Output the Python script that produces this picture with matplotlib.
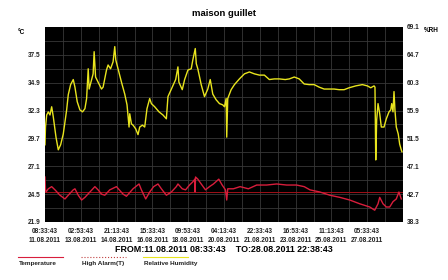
import numpy as np
import matplotlib
matplotlib.use('Agg')
import matplotlib.pyplot as plt
from matplotlib.lines import Line2D

plt.rcParams['font.family'] = ['Liberation Sans', 'DejaVu Sans']
plt.rcParams['font.weight'] = 'bold'

# hours since 11.08.2011 08:33:43
rh_hours = [0, 0.6, 2.0, 3.9, 5.9, 7.9, 9.8, 13.0, 15.7, 18.5, 21.6, 25.6, 27.5, 30.3,
            33.4, 35.4, 38.1, 41.3, 44.4, 47.2, 49.2, 51.1, 52.2, 55.1, 56.9, 58.1,
            59.8, 62.8, 66.8, 68.7, 72.7, 74.6, 77.5, 80.5, 82.5, 83.7, 86.4, 90.4,
            94.3, 97.0, 99.4, 100.2, 102.2, 104.1, 107.3, 110.0, 112.0, 115.2, 117.9,
            120.6, 123.8, 125.8, 129.7, 134.8, 139.5, 143.5, 145.4, 149.4, 154.5,
            157.2, 158.3, 162.3, 165.1, 169.0, 172.9, 174.8, 177.7, 178.9, 180.7,
            184.7, 188.6, 192.5, 195.4, 198.4, 202.4, 206.3, 210.2, 212.2, 214.2,
            214.9, 216.1, 220.1, 224.0, 229.9, 235.8, 241.7, 247.6, 253.5, 259.4,
            265.3, 271.2, 277.1, 284.1, 288.9, 294.8, 300.6, 306.5, 312.4, 318.3,
            324.2, 330.1, 336.0, 341.9, 347.8, 353.7, 359.6, 367.5, 375.3, 381.2,
            385.2, 389.1, 390.2, 391.1, 392.2, 393.8, 395.8, 397.7, 400.9, 403.6,
            406.8, 408.8, 410.0, 411.5, 412.7, 413.8, 415.4, 417.7, 419.4, 421.3, 422.1]
rh = [50.5, 53.3, 55.2, 55.7, 55.2, 56.5, 54.9, 51.7, 49.7, 50.5, 52.2, 56.0, 58.4, 60.0,
      60.8, 59.6, 57.3, 56.0, 55.7, 56.2, 57.8, 62.5, 59.3, 60.8, 61.7, 65.2,
      61.2, 60.4, 59.3, 59.6, 62.3, 63.1, 62.5, 63.6, 66.0, 63.9, 62.5, 60.4,
      58.5, 56.8, 53.3, 55.4, 53.8, 53.6, 53.0, 52.1, 53.3, 53.6, 53.3,
      56.2, 57.8, 57.0, 56.5, 55.7, 55.2, 54.6, 58.1, 59.3, 60.8,
      62.8, 60.4, 59.2, 60.8, 62.3, 62.5, 63.9, 65.7, 63.3, 62.5,
      60.0, 58.1, 59.3, 60.8, 58.5, 57.6, 57.0, 56.8, 56.5, 57.8,
      51.7, 57.8, 59.2, 60.0, 60.9, 61.7, 62.0, 61.7, 61.5, 61.5,
      60.8, 60.9, 60.9, 60.8, 60.9, 61.2, 60.9, 60.1, 60.0, 60.0,
      59.6, 59.3, 59.3, 59.3, 59.2, 59.2, 59.5, 59.8, 60.0, 59.8,
      59.5, 59.8, 59.6, 48.1, 54.4, 57.0, 55.4, 53.3, 53.3, 54.6,
      55.7, 56.0, 57.0, 55.7, 58.9, 56.0, 53.3, 52.2, 50.6, 49.7, 49.4]

t_hours = [0, 0.6, 1.2, 3.9, 7.9, 11.8, 17.7, 23.6, 27.5, 33.4, 35.4, 39.3, 43.3, 47.2,
           53.1, 59.0, 62.8, 66.8, 70.7, 76.6, 84.5, 92.3, 96.3, 104.1, 111.2, 114.0,
           119.1, 123.8, 128.5, 133.6, 137.6, 143.5, 149.4, 155.3, 157.2, 162.3,
           166.2, 170.9, 174.8, 177.2, 177.5, 178.0, 180.7, 184.7, 189.8, 194.5,
           199.2, 205.5, 209.5, 213.4, 214.9, 216.1, 222.8, 230.7, 240.5, 250.3,
           262.1, 273.9, 285.7, 297.5, 306.5, 313.3, 325.0, 336.8, 348.6, 360.4,
           372.2, 384.0, 389.9, 393.8, 395.8, 399.7, 403.6, 407.6, 411.5, 415.4,
           418.5, 421.3]
temp = [26.1, 24.9, 24.7, 25.0, 25.2, 24.9, 24.4, 24.05, 24.4, 24.9, 25.0, 24.4, 23.95, 24.2,
        24.7, 25.2, 24.9, 24.5, 24.4, 24.9, 25.2, 24.5, 24.3, 25.0, 25.45, 24.9,
        24.05, 24.7, 25.2, 25.45, 25.0, 24.4, 24.7, 25.2, 25.45, 25.0,
        24.9, 25.35, 25.65, 25.9, 24.7, 26.1, 25.9, 25.45, 24.9, 25.2,
        25.45, 25.9, 25.35, 24.9, 23.95, 25.0, 25.0, 25.2, 25.0, 25.35,
        25.35, 25.45, 25.35, 25.35, 25.2, 24.9, 24.7, 24.4, 24.2, 23.95,
        23.6, 23.3, 23.0, 23.6, 24.2, 23.6, 23.3, 23.3, 23.8, 24.05,
        24.7, 24.05]

high_alarm = 24.7

x_tick_labels = ['08:33:43\n11.08.2011', '02:53:43\n13.08.2011', '21:13:43\n14.08.2011',
                 '15:33:43\n16.08.2011', '09:53:43\n18.08.2011', '04:13:43\n20.08.2011',
                 '22:33:43\n21.08.2011', '16:53:43\n23.08.2011', '11:13:43\n25.08.2011',
                 '05:33:43\n27.08.2011']
t_ticks = [21.9, 24.5, 27.1, 29.7, 32.3, 34.9, 37.5]
rh_ticks = [38.3, 42.7, 47.1, 51.5, 55.9, 60.3, 64.7, 69.1]

step = 42 + 20 / 60.0
fig = plt.figure(figsize=(4.48, 2.8), dpi=100)
ax = fig.add_axes([45 / 448, 1 - 222 / 280, 358 / 448, 195 / 280])
ax.set_facecolor('black')
ax2 = ax.twinx()

ax.set_xlim(0, 10 * step)
ax.set_ylim(21.9, 40.1)
ax2.set_ylim(38.3, 69.1)

# grid every half label step
for i in range(1, 20):
    ax.axvline(i * step / 2, color='#383838', lw=0.6, zorder=0)
for i in range(1, 14):
    ax.axhline(21.9 + i * 1.3, color='#383838', lw=0.6, zorder=0)

ax.plot(t_hours, temp, color='#d81e3c', lw=1.0, zorder=3)
ax.axhline(high_alarm, color='#a01018', lw=0.7, zorder=2)
ax2.plot(rh_hours, rh, color='#e8e41e', lw=1.0, zorder=3)

tick_font = dict(size=4.7, weight='bold')
ax.set_xticks([i * step for i in range(10)])
ax.set_xticklabels(x_tick_labels, fontdict=tick_font, color='#222222', linespacing=1.4)
ax.set_yticks(t_ticks)
ax.set_yticklabels(['%.1f' % v for v in t_ticks], fontdict=tick_font, color='#222222')
ax2.set_yticks(rh_ticks)
ax2.set_yticklabels(['%.1f' % v for v in rh_ticks], fontdict=tick_font, color='#222222')
for a in (ax, ax2):
    a.tick_params(length=0, pad=3)
    for s in a.spines.values():
        s.set_visible(False)
ax.tick_params(axis='x', pad=4)

fig.text(224 / 448, 1 - 14 / 280, 'maison guillet', ha='center', va='center',
         fontsize=6.8, fontweight='bold')
fig.text(21 / 448, 1 - 32 / 280, '°C', ha='center', va='center', fontdict=tick_font)
fig.text(431 / 448, 1 - 30 / 280, '%RH', ha='center', va='center', fontdict=tick_font)
fig.text(224 / 448, 1 - 249 / 280, 'FROM:11.08.2011 08:33:43    TO:28.08.2011 22:38:43',
         ha='center', va='center', fontsize=6.4, fontweight='bold')

legend_items = [('Temperature', '#d81e3c', '-'), ('High Alarm(T)', '#c04040', ':'),
                ('Relative Humidity', '#e8e41e', '-')]
for i, (name, col, ls) in enumerate(legend_items):
    x0 = 18 + i * 62.5
    fig.add_artist(Line2D([x0 / 448, (x0 + 45) / 448], [1 - 257 / 280] * 2,
                          color=col, lw=0.8, ls=ls))
    fig.text((x0 + 1) / 448, 1 - 264 / 280, name, ha='left', va='center',
             fontsize=4.6, fontweight='bold', color='#222222')

fig.savefig('out.png', dpi=100)
